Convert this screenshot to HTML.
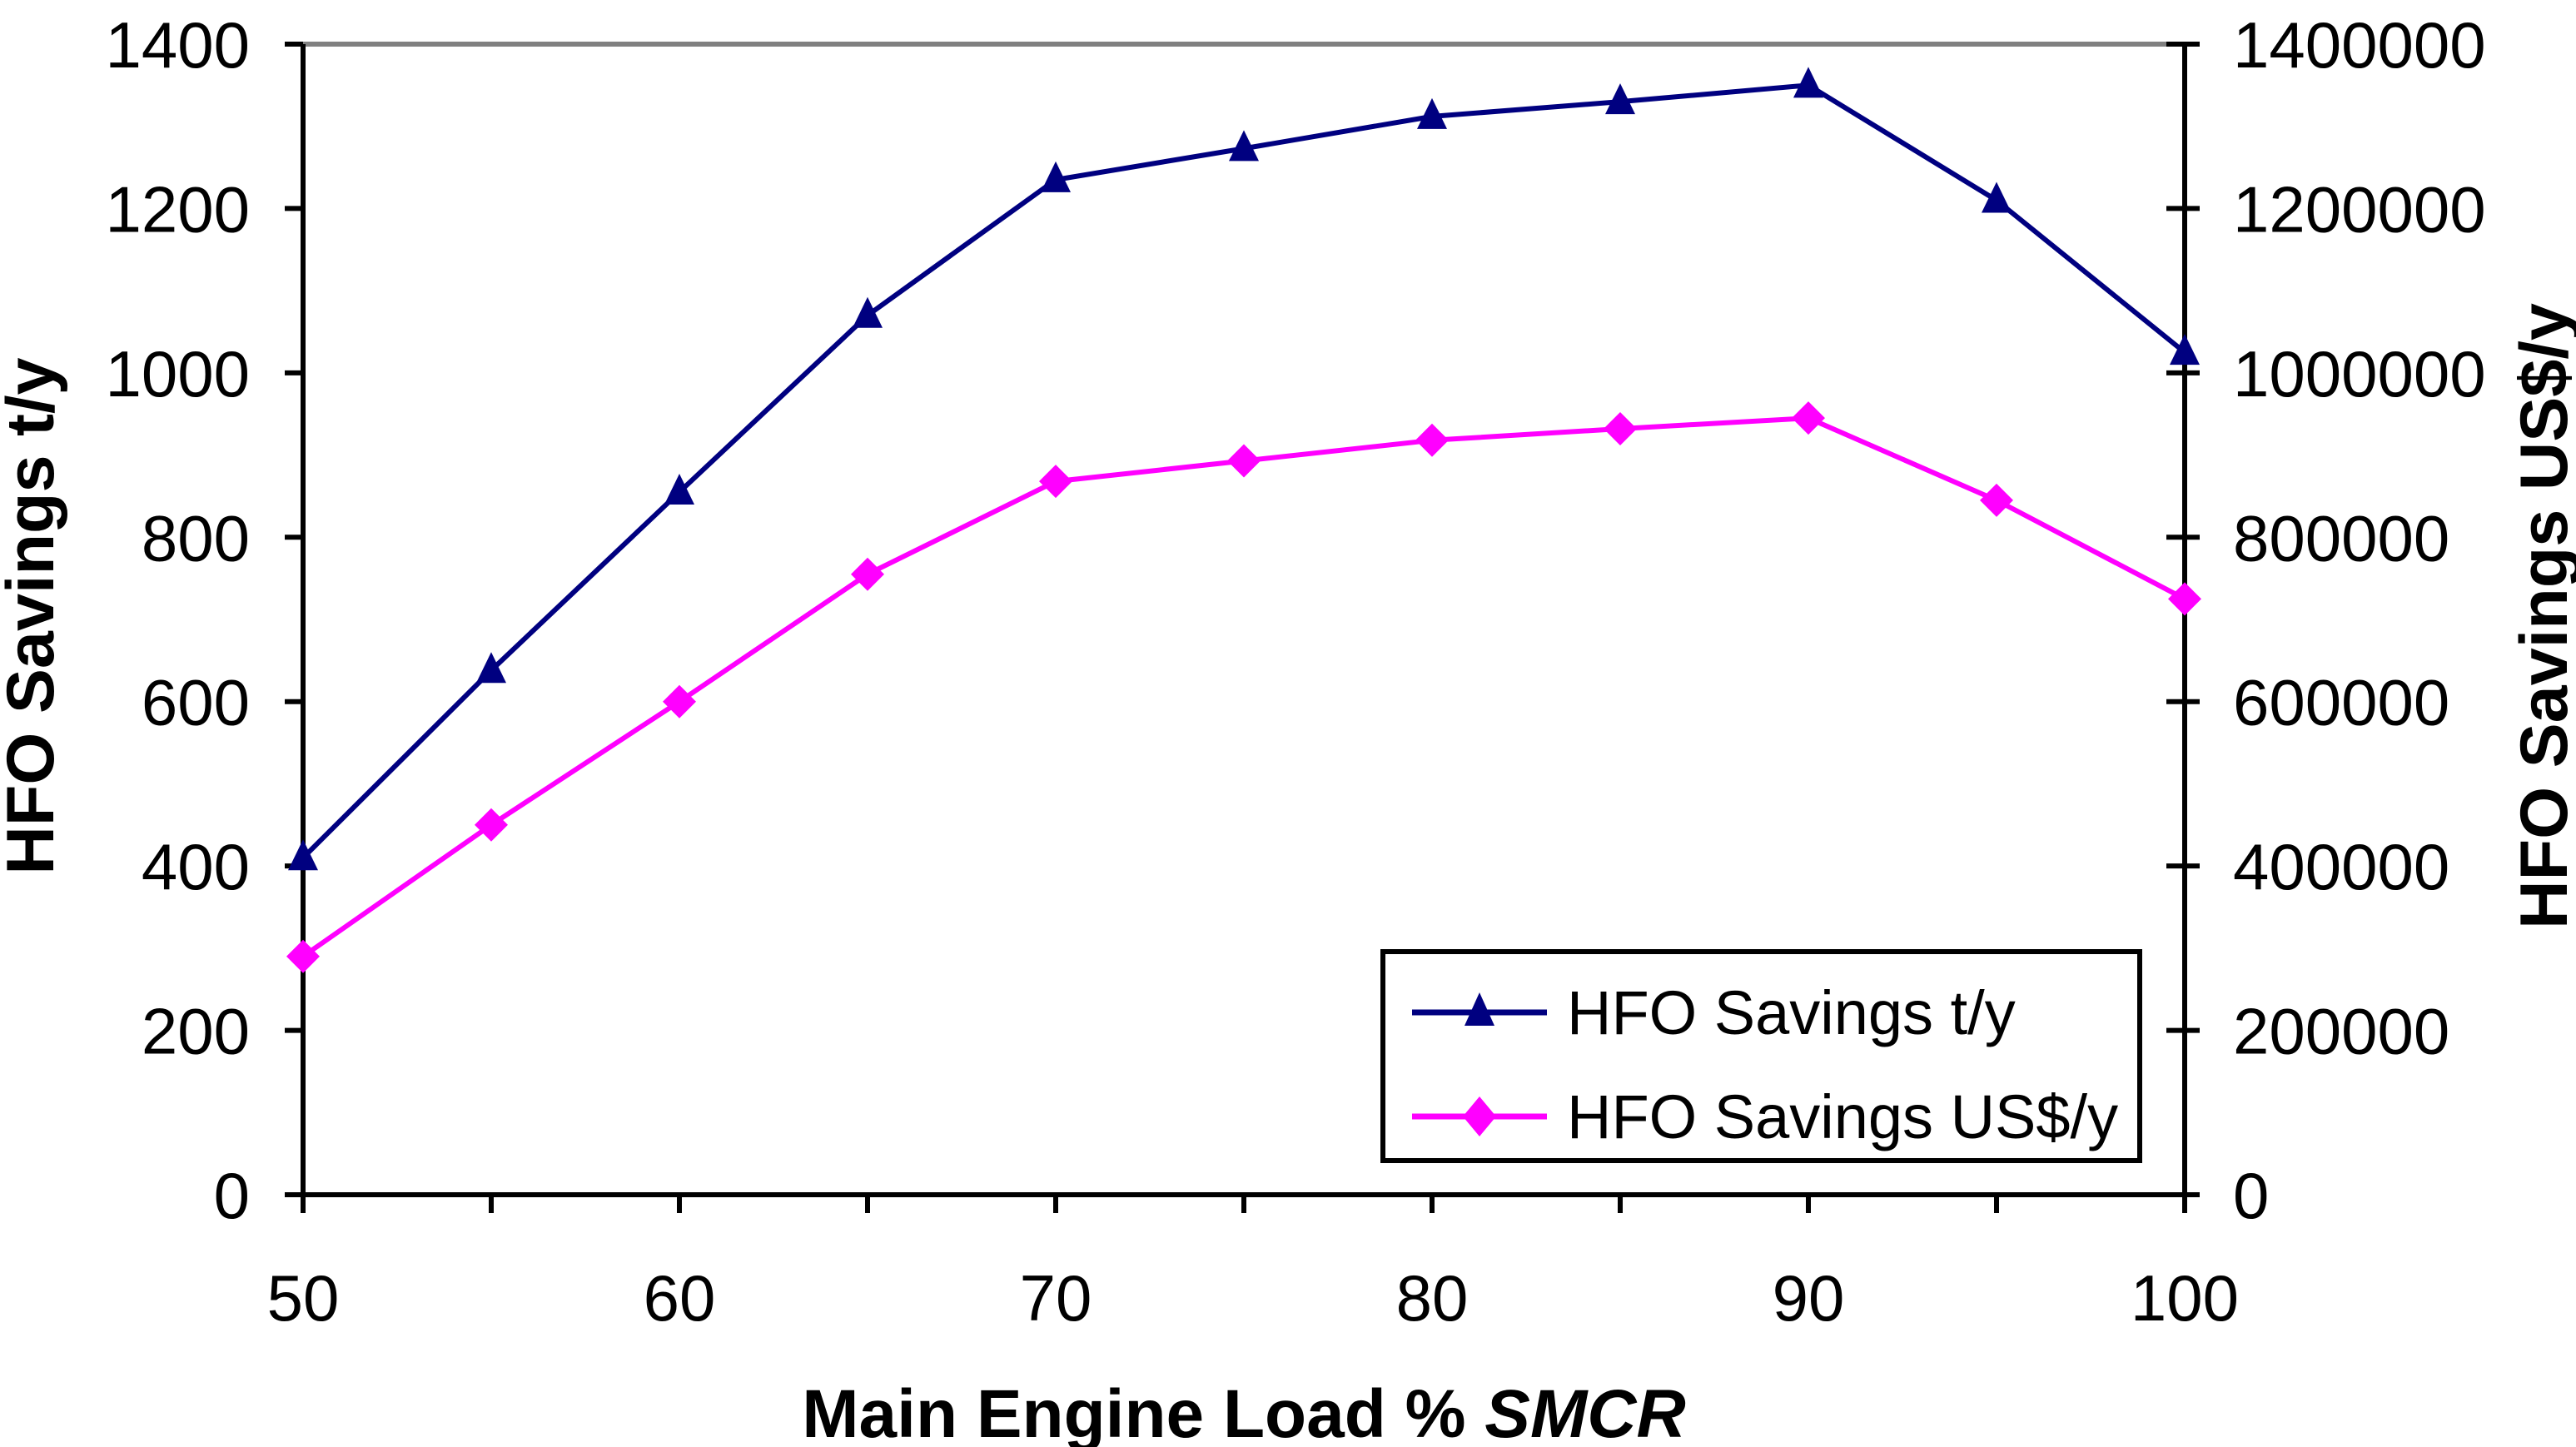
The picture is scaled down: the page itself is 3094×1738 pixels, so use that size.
<!DOCTYPE html>
<html><head><meta charset="utf-8"><style>
html,body{margin:0;padding:0;background:#fff;}
svg{display:block;font-family:"Liberation Sans",Arial,sans-serif;}
</style></head><body>
<svg id="chart" width="3094" height="1738" viewBox="0 0 3094 1738" xmlns="http://www.w3.org/2000/svg">
<g id="axes"></g><g id="series"></g>
<g>
<rect x="1661" y="1143" width="909" height="251" fill="#fff" stroke="#000" stroke-width="6"/>
<g>
<line x1="1696" y1="1216" x2="1858" y2="1216" stroke="#000080" stroke-width="7"/>
<polygon points="1777,1192 1795,1232 1759,1232" fill="#000080"/>
<text x="1882" y="1242" font-size="74" fill="#000">HFO Savings t/y</text></g>
<g>
<line x1="1696" y1="1341" x2="1858" y2="1341" stroke="#FF00FF" stroke-width="7"/>
<polygon points="1777,1317 1797,1341 1777,1365 1757,1341" fill="#FF00FF"/>
<text x="1882" y="1367" font-size="74" fill="#000">HFO Savings US$/y</text></g>
</g>
<text x="1494" y="1726" font-size="82" font-weight="bold" text-anchor="middle">Main Engine Load % <tspan font-style="italic">SMCR</tspan></text>
<text transform="translate(64,740) rotate(-90)" font-size="81" font-weight="bold" text-anchor="middle">HFO Savings t/y</text>
<text transform="translate(3083,740) rotate(-90)" font-size="81" font-weight="bold" text-anchor="middle">HFO Savings US$/y</text>
</svg>
<script>
const loads = [50,55,60,65,70,75,80,85,90,95,100];
const tons = [410,638,855,1070,1235,1273,1312,1330,1350,1210,1025];
const usd = [290000,450000,600000,755000,868000,893000,918000,932000,945000,845000,725000];
const leftTicks = [0,200,400,600,800,1000,1200,1400];
const rightTicks = [0,200000,400000,600000,800000,1000000,1200000,1400000];
const xTicks = [50,60,70,80,90,100];

const NS="http://www.w3.org/2000/svg";
const L=364,R=2624,T=53,B=1435;
const xs=v=>L+(v-50)/50*(R-L);
const yl=v=>B-v/1400*(B-T);
const yr=v=>B-v/1400000*(B-T);
function mk(tag,attrs,parent){const e=document.createElementNS(NS,tag);for(const k in attrs)e.setAttribute(k,attrs[k]);parent.appendChild(e);return e;}
const ax=document.getElementById('axes'), se=document.getElementById('series');

let e=mk('line',{x1:L,y1:T,x2:R,y2:T,stroke:'#808080','stroke-width':6},ax);


e=mk('line',{x1:L,y1:T,x2:L,y2:B+22,stroke:'#000','stroke-width':6},ax);


e=mk('line',{x1:R,y1:T,x2:R,y2:B+22,stroke:'#000','stroke-width':6},ax);


e=mk('line',{x1:L-22,y1:B,x2:R+18,y2:B,stroke:'#000','stroke-width':6},ax);



leftTicks.forEach(v=>{const y=yl(v);
 mk('line',{x1:L-22,y1:y,x2:L,y2:y,stroke:'#000','stroke-width':6},ax);
 const t=mk('text',{x:L-64,y:y+28,'font-size':78,'text-anchor':'end'},ax);t.textContent=v;
 
 });
rightTicks.forEach(v=>{const y=yr(v);
 mk('line',{x1:R-22,y1:y,x2:R+18,y2:y,stroke:'#000','stroke-width':6},ax);
 const t=mk('text',{x:R+58,y:y+28,'font-size':78},ax);t.textContent=v;
 
 });
loads.forEach(v=>{const x=xs(v);
 mk('line',{x1:x,y1:B,x2:x,y2:B+22,stroke:'#000','stroke-width':6},ax);});
xTicks.forEach(v=>{const t=mk('text',{x:xs(v),y:1586,'font-size':78,'text-anchor':'middle'},ax);t.textContent=v;
 
 });

function series(vals,yf,color,name,shape){
 const g=mk('g',{},se);
 
 
 mk('polyline',{points:loads.map((x,i)=>xs(x)+','+yf(vals[i])).join(' '),fill:'none',stroke:color,'stroke-width':6,'stroke-linejoin':'round'},g);
 loads.forEach((x,i)=>{const cx=xs(x),cy=yf(vals[i]);let p;
  if(shape==='tri')p=mk('polygon',{points:`${cx},${cy-22} ${cx+18},${cy+15} ${cx-18},${cy+15}`,fill:color},g);
  else p=mk('polygon',{points:`${cx},${cy-20} ${cx+20},${cy} ${cx},${cy+20} ${cx-20},${cy}`,fill:color},g);
  
  });
}
series(usd,yr,'#FF00FF','series-usd','dia');
series(tons,yl,'#000080','series-tons','tri');
</script>
</body></html>
